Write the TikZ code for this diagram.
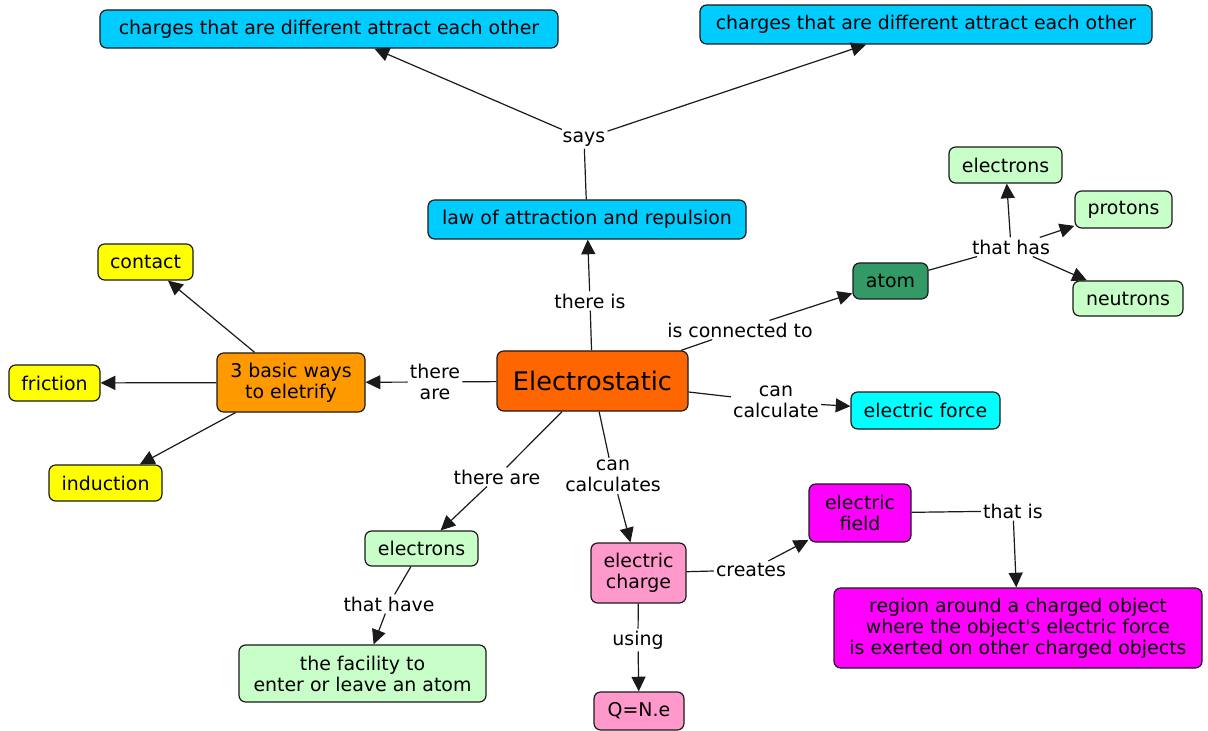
\documentclass[tikz,border=0pt]{standalone}
\usepackage{fontspec}
\setmainfont{DejaVu Sans}
\newfontfamily\dvs{DejaVu Sans}
\usetikzlibrary{arrows.meta}
\definecolor{cblue}{HTML}{00CCFF}
\definecolor{corange}{HTML}{FF6600}
\definecolor{clorange}{HTML}{FF9900}
\definecolor{cyellow}{HTML}{FFFF00}
\definecolor{cgreen}{HTML}{C8FFC8}
\definecolor{catom}{HTML}{339966}
\definecolor{ccyan}{HTML}{00FFFF}
\definecolor{cpink}{HTML}{FF99CC}
\definecolor{cmag}{HTML}{FF00FF}
\definecolor{cline}{HTML}{1A1A1A}
\tikzset{
  concept/.style={draw=cline, line width=0.9pt, rounded corners=5pt, inner sep=0pt,
    align=center, font=\dvs\fontsize{14.2}{15.8}\selectfont},
  lbl/.style={inner sep=1.5pt, align=center, font=\dvs\fontsize{14.2}{15.8}\selectfont},
  conn/.style={draw=cline, line width=0.9pt},
  arr/.style={draw=cline, line width=0.9pt, -{Triangle[length=11pt,width=10.5pt]}},
}
\begin{document}
\begin{tikzpicture}[x=0.75pt,y=-0.75pt]
\path[use as bounding box, fill=white] (0,0) rectangle (1208,731);
% concepts
\node[concept, fill=cblue, minimum width=343.5pt, minimum height=28.5pt] (tl) at (329,29) {charges that are different attract each other};
\node[concept, fill=cblue, minimum width=339pt, minimum height=29.25pt] (tr) at (926,24.5) {charges that are different attract each other};
\node[concept, fill=cblue, minimum width=238.5pt, minimum height=29.25pt] (law) at (587,219.5) {law of attraction and repulsion};
\node[concept, fill=corange, minimum width=143.25pt, minimum height=45pt, font=\dvs\fontsize{19.2}{21}\selectfont] (es) at (592.5,381) {Electrostatic};
\node[concept, fill=clorange, minimum width=111pt, minimum height=44.25pt] (ways) at (291,382.5) {3 basic ways\\ to eletrify};
\node[concept, fill=cyellow, minimum width=71.25pt, minimum height=27pt] (contact) at (145.5,262) {contact};
\node[concept, fill=cyellow, minimum width=68.25pt, minimum height=27pt] (friction) at (54.5,383) {friction};
\node[concept, fill=cyellow, minimum width=84.75pt, minimum height=27pt] (induction) at (105.5,483) {induction};
\node[concept, fill=catom, minimum width=56.25pt, minimum height=27pt] (atom) at (890.5,281) {atom};
\node[concept, fill=cgreen, minimum width=84.75pt, minimum height=27pt] (el1) at (1005.5,165) {electrons};
\node[concept, fill=cgreen, minimum width=72.75pt, minimum height=27.75pt] (prot) at (1123.5,209.5) {protons};
\node[concept, fill=cgreen, minimum width=82.5pt, minimum height=26.25pt] (neut) at (1128,298.5) {neutrons};
\node[concept, fill=ccyan, minimum width=111.75pt, minimum height=27.75pt] (force) at (925.5,410.5) {electric force};
\node[concept, fill=cgreen, minimum width=84.75pt, minimum height=26.25pt] (el2) at (421.5,548.5) {electrons};
\node[concept, fill=cgreen, minimum width=185.25pt, minimum height=42.75pt] (fac) at (362.5,673.5) {the facility to\\enter or leave an atom};
\node[concept, fill=cpink, minimum width=71.25pt, minimum height=45pt] (charge) at (638.5,573) {electric\\charge};
\node[concept, fill=cpink, minimum width=67.5pt, minimum height=28.5pt] (qne) at (639,711) {Q=N.e};
\node[concept, fill=cmag, minimum width=76.5pt, minimum height=43.5pt] (field) at (860,513) {electric\\field};
\node[concept, fill=cmag, minimum width=276pt, minimum height=60pt] (region) at (1018,628) {region around a charged object\\where the object's electric force\\is exerted on other charged objects};
% link labels
\node[lbl] (says) at (584,139) {says};
\node[lbl] (thereis) at (590,301) {there is};
\node[lbl] (thereare1) at (435,382) {there\\are};
\node[lbl] (isconn) at (740,330) {is connected to};
\node[lbl] (thathas) at (1011,247) {that has};
\node[lbl] (cancalc) at (776,402) {can\\calculate};
\node[lbl] (thereare2) at (497,477) {there are};
\node[lbl] (thathave) at (389,604) {that have};
\node[lbl] (cancalcs) at (613,476) {can\\calculates};
\node[lbl] (using) at (638,640) {using};
\node[lbl] (creates) at (751,570) {creates};
\node[lbl] (thatis) at (1013,511) {that is};
% connectors
\draw[conn] (law) -- (says);
\draw[arr] (says) -- (tl);
\draw[arr] (says) -- (tr);
\draw[conn] (es) -- (thereis);
\draw[arr] (thereis) -- (law);
\draw[conn] (es) -- (thereare1);
\draw[arr] (thereare1) -- (ways);
\draw[arr] (ways) -- (contact);
\draw[arr] (ways) -- (friction);
\draw[arr] (ways) -- (induction);
\draw[conn] (es) -- (isconn);
\draw[arr] (isconn) -- (atom);
\draw[conn] (atom) -- (thathas);
\draw[arr] (thathas) -- (el1);
\draw[arr] (thathas) -- (prot);
\draw[arr] (thathas) -- (neut);
\draw[conn] (es) -- (cancalc);
\draw[arr] (cancalc) -- (force);
\draw[conn] (es) -- (thereare2);
\draw[arr] (thereare2) -- (el2);
\draw[conn] (el2) -- (thathave);
\draw[arr] (thathave) -- (fac);
\draw[conn] (es) -- (cancalcs);
\draw[arr] (cancalcs) -- (charge);
\draw[conn] (charge) -- (using);
\draw[arr] (using) -- (qne);
\draw[conn] (charge) -- (creates);
\draw[arr] (creates) -- (field);
\draw[conn] (field) -- (thatis);
\draw[arr] (thatis) -- (region);
\end{tikzpicture}
\end{document}
